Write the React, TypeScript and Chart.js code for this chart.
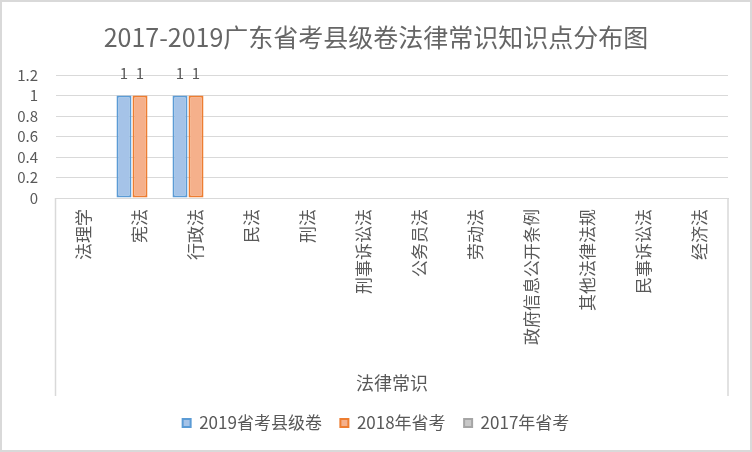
import React, { useEffect, useRef } from "react";
import { Chart, registerables } from "chart.js";

Chart.register(...registerables);

const titleText = "2017-2019广东省考县级卷法律常识知识点分布图";
const axisTitle = "法律常识";
const categories = [
  "法理学",
  "宪法",
  "行政法",
  "民法",
  "刑法",
  "刑事诉讼法",
  "公务员法",
  "劳动法",
  "政府信息公开条例",
  "其他法律法规",
  "民事诉讼法",
  "经济法",
];
const seriesNames = ["2019省考县级卷", "2018年省考", "2017年省考"];
const values2019 = [null, 1, 1, null, null, null, null, null, null, null, null, null];
const values2018 = [null, 1, 1, null, null, null, null, null, null, null, null, null];
const values2017 = [null, null, null, null, null, null, null, null, null, null, null, null];
const yMin = 0;
const yMax = 1.2;
const yStep = 0.2;

const FONT = "'Noto Sans CJK SC', 'Noto Sans', sans-serif";
const TEXT = "#595959";
const GRID = "#D9D9D9";

const fills = ["#A5C3E8", "#F5B08B", "#C8C8C8"];
const borders = ["#5B9BD5", "#ED7D31", "#A5A5A5"];

const frame = {
  id: "frame",
  beforeDraw(chart: any) {
    const { ctx, width, height } = chart;
    ctx.save();
    ctx.fillStyle = "#FFFFFF";
    ctx.fillRect(0, 0, width, height);
    ctx.strokeStyle = GRID;
    ctx.lineWidth = 2;
    ctx.strokeRect(1, 1, width - 2, height - 2);
    ctx.restore();
  },
};

const categoryBox = {
  id: "categoryBox",
  afterDraw(chart: any) {
    const { ctx, chartArea } = chart;
    const xs = chart.scales.x;
    ctx.save();
    ctx.strokeStyle = GRID;
    ctx.lineWidth = 1.5;
    ctx.beginPath();
    ctx.moveTo(chartArea.left - 0.5, xs.top);
    ctx.lineTo(chartArea.left - 0.5, xs.bottom);
    ctx.moveTo(chartArea.right, xs.top);
    ctx.lineTo(chartArea.right, xs.bottom);
    ctx.stroke();
    ctx.restore();
  },
};

const dataLabels = {
  id: "dataLabels",
  afterDatasetsDraw(chart: any) {
    const { ctx } = chart;
    ctx.save();
    ctx.font = `15px ${FONT}`;
    ctx.fillStyle = TEXT;
    ctx.textAlign = "center";
    ctx.textBaseline = "middle";
    chart.data.datasets.forEach((ds: any, di: number) => {
      const meta = chart.getDatasetMeta(di);
      meta.data.forEach((el: any, i: number) => {
        const v = ds.data[i];
        if (v === null || v === undefined) return;
        ctx.fillText(String(v), el.x, el.y - 22);
      });
    });
    ctx.restore();
  },
};

export default function App() {
  const ref = useRef<HTMLCanvasElement | null>(null);

  useEffect(() => {
    document.body.style.margin = "0";
    const canvas = ref.current;
    if (!canvas) return;
    const seriesValues = [values2019, values2018, values2017];
    const chart = new Chart(canvas, {
      type: "bar",
      data: {
        labels: categories,
        datasets: seriesNames.map((name, i) => ({
          label: name,
          data: seriesValues[i],
          backgroundColor: fills[i],
          borderColor: borders[i],
          borderWidth: 2,
          borderSkipped: false,
          categoryPercentage: 0.857,
          barPercentage: 0.94,
          yAxisID: "y",
        })),
      },
      options: {
        responsive: false,
        animation: false,
        layout: { padding: { left: 0, right: 0, top: 0, bottom: 10.5 } },
        plugins: {
          tooltip: { enabled: false },
          title: {
            display: true,
            text: titleText,
            color: "#666666",
            font: { family: FONT, size: 25, weight: "normal", lineHeight: 1.2 },
            padding: { top: 22, bottom: 23 },
          },
          legend: {
            display: true,
            position: "bottom",
            labels: {
              color: TEXT,
              font: { family: FONT, size: 17 },
              boxWidth: 8,
              boxHeight: 8,
              padding: 18.5,
            },
          },
        },
        scales: {
          x: {
            grid: { display: false, drawTicks: false },
            border: { display: true, color: GRID, width: 1 },
            ticks: {
              color: TEXT,
              font: { family: FONT, size: 17 },
              minRotation: 90,
              maxRotation: 90,
              autoSkip: false,
              padding: 11,
            },
            title: {
              display: true,
              text: axisTitle,
              color: TEXT,
              font: { family: FONT, size: 18, lineHeight: 1.2 },
              padding: { top: 0, bottom: 2 },
            },
            afterFit(scale: any) {
              scale.height = 198;
            },
          },
          y: {
            position: "left",
            min: yMin,
            max: yMax,
            grid: { color: GRID, lineWidth: 1, drawTicks: false },
            border: { display: false },
            ticks: {
              stepSize: yStep,
              autoSkip: false,
              color: TEXT,
              font: { family: FONT, size: 15 },
              padding: 18,
              callback: (v: any) => String(Number(Number(v).toFixed(1))),
            },
            afterFit(scale: any) {
              scale.width = 56;
            },
          },
          yRight: {
            position: "right",
            display: true,
            grid: { display: false, drawTicks: false },
            border: { display: false },
            ticks: { display: false },
            afterFit(scale: any) {
              scale.width = 24;
            },
          },
        },
      },
      plugins: [frame, categoryBox, dataLabels],
    } as any);
    return () => chart.destroy();
  }, []);

  return (
    <div style={{ width: 752, height: 452, position: "relative" }}>
      <canvas ref={ref} width={752} height={452} style={{ display: "block" }} />
    </div>
  );
}
